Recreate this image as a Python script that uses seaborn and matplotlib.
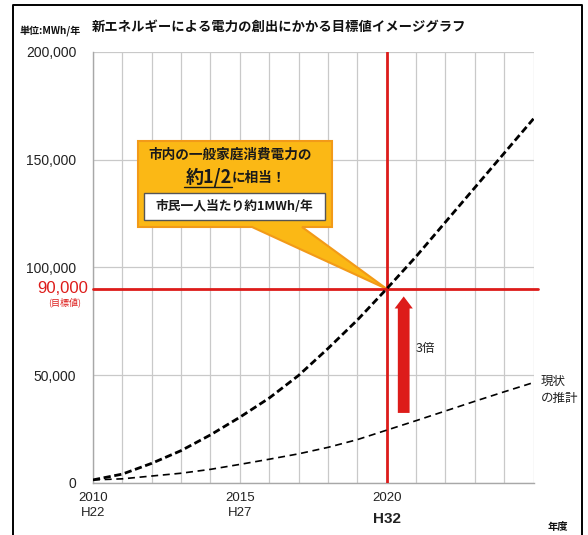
import matplotlib
matplotlib.use("Agg")
import matplotlib.pyplot as plt
from matplotlib import font_manager as fm
from matplotlib.patches import Polygon, Rectangle, FancyArrow
from matplotlib.transforms import Affine2D, IdentityTransform
import seaborn as sns
import pandas as pd

# ---------------- data ----------------
years = [2010, 2011, 2012, 2013, 2014, 2015, 2016, 2017, 2018, 2019, 2020,
         2021, 2022, 2023, 2024, 2025]
target = [1300, 4000, 9000, 14900, 22200, 30400, 39300, 49800, 62300, 75500, 90000,
          105000, 121000, 137000, 153000, 169000]
current = [1300, 1800, 3100, 4400, 6200, 8500, 10900, 13400, 16400, 20000, 24400,
           28800, 33300, 37800, 42200, 46500]
goal_value = 90000
goal_year = 2020
ytick_vals = [0, 50000, 100000, 150000, 200000]
xtick_vals = [2010, 2015, 2020]
xtick_labels = ["2010\nH22", "2015\nH27", "2020"]

title = "新エネルギーによる電力の創出にかかる目標値イメージグラフ"
unit_label = "単位:MWh/年"
xlabel = "年度"

df = pd.DataFrame({"year": years, "target": target, "current": current})

# ---------------- style ----------------
sns.set_style("white")
names = {f.name for f in fm.fontManager.ttflist}
NUM = "Liberation Sans Narrow" if "Liberation Sans Narrow" in names else "Liberation Sans"
JP = ["Noto Sans CJK JP", "DejaVu Sans"]
plt.rcParams["font.family"] = [NUM, "Noto Sans CJK JP", "DejaVu Sans"]

RED = "#dd1c1a"
GRID = "#c9c9c9"

W, H = 588, 535
fig = plt.figure(figsize=(W / 100, H / 100), dpi=100)
ax = fig.add_axes([93 / W, 1 - 482.7 / H, (533.5 - 93) / W, (482.7 - 52) / H])

# reference-pixel transform (origin top-left)
P = Affine2D().scale(1 / W, -1 / H).translate(0, 1) + fig.transFigure

# curves
sns.lineplot(data=df, x="year", y="target", ax=ax, color="black", linewidth=2.0,
             linestyle=(0, (2.6, 1.3)), zorder=4)
sns.lineplot(data=df, x="year", y="current", ax=ax, color="black", linewidth=1.2,
             linestyle=(0, (4.2, 2.8)), zorder=4)

ax.set_xlim(2010, 2025)
ax.set_ylim(0, 200000)
ax.set_xlabel("")
ax.set_ylabel("")

ax.set_xticks(xtick_vals)
ax.set_xticks(years, minor=True)
ax.set_xticklabels(xtick_labels, fontsize=9.5, linespacing=1.3)
ax.set_yticks(ytick_vals)
ax.set_yticklabels([f"{v:,}" for v in ytick_vals], fontsize=10)
ax.tick_params(axis="y", which="major", length=6, color="#a0a0a0", width=0.9, pad=6,
               colors="#222222")
ax.tick_params(axis="x", which="both", length=4, color="#b0b0b0", width=0.9, pad=3,
               colors="#222222")

ax.grid(True, which="both", axis="x", color=GRID, linewidth=0.9)
ax.grid(True, which="major", axis="y", color=GRID, linewidth=0.9)
ax.set_axisbelow(True)
for s in ["top", "right"]:
    ax.spines[s].set_visible(False)
for s in ["left", "bottom"]:
    ax.spines[s].set_color("#a8a8a8")
    ax.spines[s].set_linewidth(1.0)

# red goal lines
ax.axvline(goal_year, color=RED, linewidth=2.0, zorder=3)
ax.plot([2010, 2025.15], [goal_value, goal_value], color=RED, linewidth=2.0,
        zorder=3, clip_on=False)

# red arrow (3x)
ax.add_patch(FancyArrow(2020.58, 32400, 0, 86500 - 32400, width=0.40,
                        head_width=0.62, head_length=5600, length_includes_head=True,
                        color=RED, linewidth=0, zorder=5))
ax.text(2021.0, 62400, "3倍", fontsize=9, va="center", ha="left", family=JP, color="#222222")

# goal value label
ax.annotate(f"{goal_value:,}", xy=(0, goal_value), xycoords=ax.get_yaxis_transform(),
            xytext=(-5, 0), textcoords="offset pixels", ha="right", va="center",
            fontsize=12, color=RED)
fig.text(65, 302, "(目標値)", transform=P, ha="center", va="center", fontsize=6.5,
         color=RED, family=JP)

# bold H32
fig.text(387, 519, "H32", transform=P, ha="center", va="center", fontsize=11,
         fontweight="bold", color="#222222", family=["Liberation Sans", "DejaVu Sans"])

# title, unit, x label
fig.text(279, 27, title, transform=P, ha="center", va="center", fontsize=9.6,
         fontweight="bold", family=JP, color="#111111")
fig.text(20, 31, unit_label, transform=P, ha="left", va="center", fontsize=7.2,
         fontweight="bold", family=JP, color="#111111")
fig.text(558, 527, xlabel, transform=P, ha="center", va="center", fontsize=7.4,
         fontweight="bold", family=JP, color="#111111")

# current-trend label
fig.text(541, 381, "現状", transform=P, ha="left", va="center", fontsize=9, family=JP,
         color="#222222")
fig.text(541, 398, "の推計", transform=P, ha="left", va="center", fontsize=9, family=JP,
         color="#222222")

# callout
def rp(x, y):
    return P.transform((x, y))

tip = ax.transData.transform((goal_year, goal_value))
verts = [rp(138, 141), rp(332, 141), rp(332, 227), rp(302, 227), tip,
         rp(252, 227), rp(138, 227)]
ax.add_patch(Polygon(verts, closed=True, transform=IdentityTransform(),
                     facecolor="#fbb815", edgecolor="#f29a18", linewidth=1.5,
                     zorder=2.6, clip_on=False))
wb0 = rp(144, 220)
wb1 = rp(325, 193)
ax.add_patch(Rectangle(wb0, wb1[0] - wb0[0], wb1[1] - wb0[1], transform=IdentityTransform(),
                       facecolor="white", edgecolor="#555555", linewidth=1.0,
                       zorder=2.7, clip_on=False))
fig.text(230, 155, "市内の一般家庭消費電力の", transform=P, ha="center", va="center",
         fontsize=9.8, fontweight="bold", family=JP, color="#1a1a1a")
fig.text(232, 177, "約1/2", transform=P, ha="right", va="center",
         fontsize=13, fontweight="bold", family=JP, color="#1a1a1a")
fig.text(232, 178, "に相当！", transform=P, ha="left", va="center",
         fontsize=9.8, fontweight="bold", family=JP, color="#1a1a1a")
fig.add_artist(plt.Line2D([184 / W, 232 / W], [1 - 187 / H, 1 - 187 / H],
                          color="#1a1a1a", linewidth=1.0))
fig.text(234, 207, "市民一人当たり約1MWh/年", transform=P, ha="center", va="center",
         fontsize=9.2, fontweight="bold", family=JP, color="#1a1a1a")

# outer frame (open at bottom)
fig.add_artist(plt.Line2D([13 / W, 13 / W, 582 / W, 582 / W],
                          [0, 1 - 5 / H, 1 - 5 / H, 0], color="black", linewidth=1.4))

fig.savefig("out.png", dpi=100)
